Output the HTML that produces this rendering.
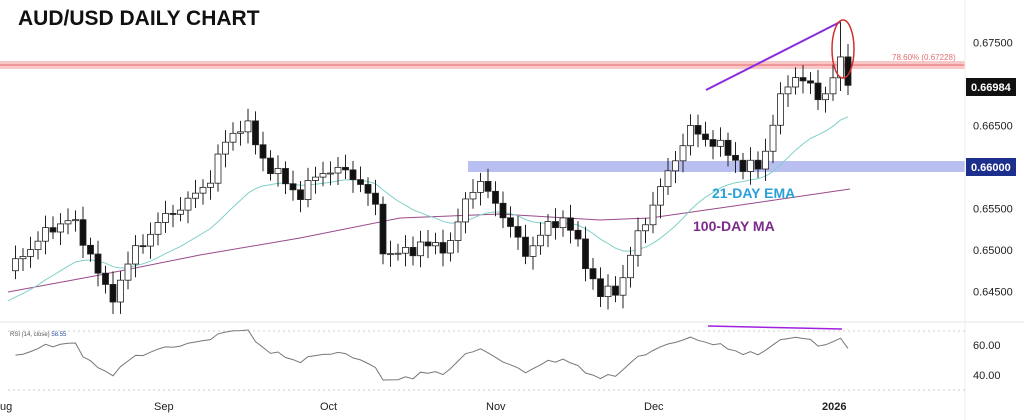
<!DOCTYPE html><html><head><meta charset="utf-8"><style>
html,body{margin:0;padding:0;background:#fff;width:1024px;height:420px;overflow:hidden}
svg{display:block;font-family:"Liberation Sans",sans-serif}
</style></head><body>
<svg id="s" width="1024" height="420" xmlns="http://www.w3.org/2000/svg"></svg>
<script>
var s=document.getElementById('s'),h='';
function Y(p){return 167-(p-0.66)*8300;}
var kp=[[8,0.6475],[40,0.6515],[70,0.654],[95,0.6485],[110,0.6435],[130,0.649],[160,0.6535],[190,0.656],[210,0.6585],[225,0.663],[245,0.6655],[265,0.6605],[300,0.6565],[320,0.6595],[350,0.6595],[375,0.6555],[385,0.649],[420,0.6505],[450,0.6505],[470,0.6575],[480,0.658],[500,0.655],[525,0.6495],[545,0.6525],[565,0.654],[580,0.65],[600,0.6445],[620,0.6455],[635,0.651],[655,0.656],[675,0.661],[690,0.6645],[720,0.6625],[745,0.6598],[762,0.6602],[775,0.6665],[790,0.6705],[800,0.6712],[810,0.6695],[820,0.668],[832,0.6705],[843,0.6735],[850,0.6698]];
function interp(x){for(var i=1;i<kp.length;i++){if(x<=kp[i][0]){var a=kp[i-1],b=kp[i],t=(x-a[0])/(b[0]-a[0]);return a[1]+(b[1]-a[1])*t;}}return kp[kp.length-1][1];}
var n=113,dx=7.5,c=[],xs=[];
for(var i=0;i<n;i++){var x=8+i*dx;if(x>850)x=850;xs.push(x);c.push(interp(x)+0.0009*Math.sin(i*2.3)*Math.cos(i*0.7));}
c[n-1]=0.66984;
h+='<rect x="0" y="61" width="965" height="8" fill="#f8c8c8"/><line x1="0" y1="65" x2="965" y2="65" stroke="#ee8888" stroke-width="1.5"/>';
h+='<rect x="468" y="161" width="497" height="11" fill="#b9bff0"/>';
h+='<line x1="0" y1="322" x2="1024" y2="322" stroke="#e6e6e6"/>';
h+='<line x1="965" y1="0" x2="965" y2="420" stroke="#eee"/>';
h+='<line x1="8" y1="331" x2="965" y2="331" stroke="#ccc" stroke-dasharray="2,3"/><line x1="8" y1="390" x2="965" y2="390" stroke="#ccc" stroke-dasharray="2,3"/>';
var ma=[[8,292],[100,275],[200,255],[300,238],[400,218],[500,214],[600,220],[650,218],[720,208],[850,189]];
h+='<polyline fill="none" stroke="#9a4a8a" stroke-width="1" points="'+ma.map(function(p){return p.join(',')}).join(' ')+'"/>';
var e=c[0]-0.004,ep=[],k=2/22;
for(var i=0;i<n;i++){e=e+(c[i]-e)*k;ep.push(xs[i].toFixed(1)+','+Y(e).toFixed(1));}
h+='<polyline fill="none" stroke="#7fd0c8" stroke-width="1" points="'+ep.join(' ')+'"/>';
for(var i=1;i<n;i++){var o=c[i-1],cl=c[i],hi=Math.max(o,cl)+0.0008+0.0008*Math.abs(Math.sin(i*1.7)),lo=Math.min(o,cl)-0.0008-0.0008*Math.abs(Math.cos(i*1.3));
if(i==n-2)hi=0.6775;
var x=xs[i],up=cl>=o;h+='<line x1="'+x+'" y1="'+Y(hi)+'" x2="'+x+'" y2="'+Y(lo)+'" stroke="#222"/>';
var t=Y(Math.max(o,cl)),b=Y(Math.min(o,cl));if(b-t<1)b=t+1;
h+='<rect x="'+(x-3)+'" y="'+t+'" width="6" height="'+(b-t)+'" fill="'+(up?'#fff':'#111')+'" stroke="#222" stroke-width="0.8"/>';}
var ag=0.0005,al=0.0005,rp=[];for(var i=1;i<n;i++){var d=c[i]-c[i-1];ag=(ag*13+Math.max(d,0))/14;al=(al*13+Math.max(-d,0))/14;var r=100-100/(1+ag/(al||1e-9));r=50+(r-50)*0.65;r=Math.max(33,Math.min(70,r));rp.push(xs[i]+','+(390-(r-30)*1.5).toFixed(1));}
h+='<polyline fill="none" stroke="#777" stroke-width="1" points="'+rp.join(' ')+'"/>';
h+='<line x1="708" y1="326" x2="842" y2="329" stroke="#a020e0" stroke-width="1.5"/>';
h+='<text x="10" y="336" font-size="6" fill="#555">RSI (14, close) <tspan fill="#2a4ea0">58.55</tspan></text>';
h+='<line x1="706" y1="90" x2="840" y2="22" stroke="#8a2be2" stroke-width="2"/>';
h+='<ellipse cx="843" cy="49" rx="11" ry="29" fill="none" stroke="#d03030" stroke-width="1.5"/>';
h+='<text x="892" y="60" font-size="8" fill="#e07070">78.60% (0.67228)</text>';
h+='<text x="712" y="198" font-size="14" font-weight="bold" fill="#2aa0d8">21-DAY EMA</text>';
h+='<text x="693" y="231" font-size="14" font-weight="bold" fill="#7b2a8a">100-DAY MA</text>';
h+='<text x="18" y="25" font-size="21" font-weight="bold" fill="#111">AUD/USD DAILY CHART</text>';
[[0.675,'0.67500'],[0.665,'0.66500'],[0.655,'0.65500'],[0.65,'0.65000'],[0.645,'0.64500']].forEach(function(a){h+='<text x="973" y="'+(Y(a[0])+4)+'" font-size="11" fill="#222">'+a[1]+'</text>';});
h+='<rect x="966" y="78" width="50" height="18" fill="#111"/><text x="971" y="91" font-size="11" font-weight="bold" fill="#fff">0.66984</text>';
h+='<rect x="966" y="158" width="50" height="18" fill="#1c2f8c"/><text x="971" y="171" font-size="11" font-weight="bold" fill="#fff">0.66000</text>';
h+='<text x="973" y="349" font-size="11" fill="#222">60.00</text><text x="973" y="379" font-size="11" fill="#222">40.00</text>';
[['ug',0],['Sep',154],['Oct',320],['Nov',486],['Dec',644],['2026',822]].forEach(function(a){h+='<text x="'+a[1]+'" y="410" font-size="11" fill="#222"'+(a[0]=='2026'?' font-weight="bold"':'')+'>'+a[0]+'</text>';});
s.innerHTML=h;
</script></body></html>
